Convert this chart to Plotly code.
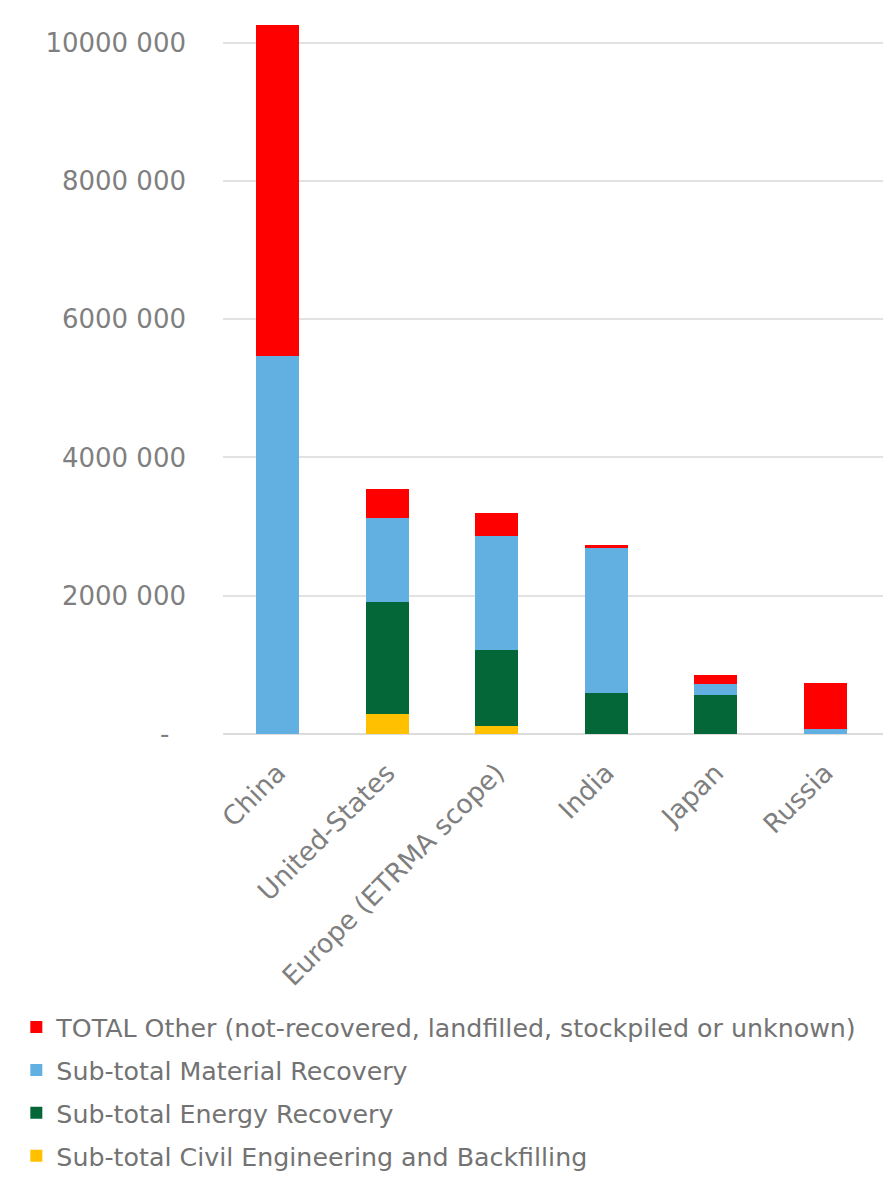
import plotly.graph_objects as go

# Kategorie i wartości (tony)
countries = ["China", "United-States", "Europe (ETRMA scope)", "India", "Japan", "Russia"]
civil = [0, 290000, 120000, 0, 0, 0]
energy = [0, 1620000, 1090000, 600000, 570000, 0]
material = [5470000, 1210000, 1660000, 2090000, 160000, 75000]
other = [4780000, 420000, 320000, 50000, 130000, 665000]

y_ticks = [0, 2000000, 4000000, 6000000, 8000000, 10000000]
y_labels = ["-\u00a0\u00a0", "2000 000", "4000 000", "6000 000", "8000 000", "10000 000"]

series = [
    ("Sub-total Civil Engineering and Backfilling", civil, "#ffc000", 4),
    ("Sub-total Energy Recovery", energy, "#036738", 3),
    ("Sub-total Material Recovery", material, "#62b0e2", 2),
    ("TOTAL Other (not-recovered, landfilled, stockpiled or unknown)", other, "#ff0000", 1),
]

fig = go.Figure()
for name, vals, col, rank in series:
    fig.add_trace(go.Bar(
        x=countries, y=vals, name=name, marker_color=col,
        marker_line_width=0, legendgroup=name, legendrank=rank,
    ))

grey = "#7f7f7f"
fig.update_layout(
    barmode="stack",
    bargap=0.607,
    width=883, height=1184,
    margin=dict(l=215, r=0, t=0, b=458, autoexpand=False),
    plot_bgcolor="white", paper_bgcolor="white",
    font=dict(family="DejaVu Sans", color=grey, size=26),
    legend=dict(
        x=-0.3094, y=-0.372, xanchor="left", yanchor="top",
        traceorder="grouped", tracegroupgap=7,
        font=dict(size=25.3, color="#737373"),
    ),
)
fig.update_xaxes(
    range=[-0.5, 5.6], tickangle=-45, showgrid=False,
    showline=False, ticklabelstandoff=17, automargin=False,
    tickfont=dict(size=26.5, color=grey),
)
fig.update_yaxes(
    range=[0, 10500000], tickvals=y_ticks, ticktext=y_labels,
    showgrid=True, gridcolor="#e2e2e2", gridwidth=2,
    zeroline=True, zerolinecolor="#dcdcdc", zerolinewidth=2,
    ticklabelstandoff=36, automargin=False,
    tickfont=dict(size=26, color=grey),
)

fig.write_html("out.html")
